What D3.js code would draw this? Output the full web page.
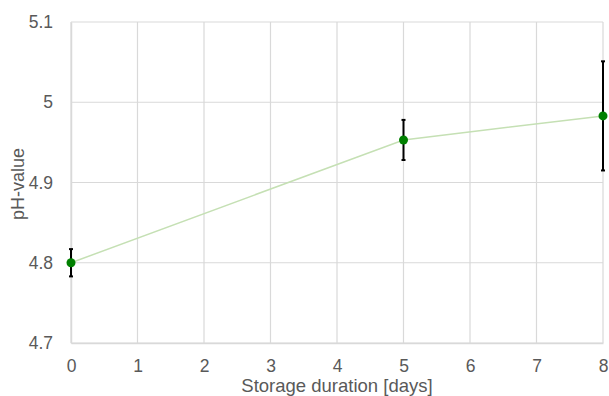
<!DOCTYPE html>
<html><head><meta charset="utf-8">
<script src="https://cdn.jsdelivr.net/npm/d3@7"></script>
<style>html,body{margin:0;padding:0;background:#fff;overflow:hidden}</style>
</head><body>
<svg id="c" width="609" height="396"></svg>
<script>
const days = [0, 5, 8];
const phValues = [4.800, 4.953, 4.983];
const phErrors = [0.017, 0.025, 0.068];
const xTicks = [0,1,2,3,4,5,6,7,8];
const yTicks = [4.7, 4.8, 4.9, 5.0, 5.1];
const yTickLabels = ["4.7","4.8","4.9","5","5.1"];

const svg = d3.select("#c");
const m = {left:71, right:603, top:22, bottom:343};
const x = d3.scaleLinear().domain([0,8]).range([m.left, m.right]);
const y = d3.scaleLinear().domain([4.7,5.1]).range([m.bottom, m.top]);
const font = "'Liberation Sans', Arial, sans-serif";
const grid = "#d9d9d9";
const txt = "#595959";

// gridlines
svg.append("g").selectAll("line").data(yTicks).join("line")
  .attr("x1", m.left).attr("x2", m.right)
  .attr("y1", d=>y(d)).attr("y2", d=>y(d))
  .attr("stroke", grid).attr("stroke-width", 1.2);
svg.append("g").selectAll("line").data(xTicks).join("line")
  .attr("y1", m.top).attr("y2", m.bottom)
  .attr("x1", d=>x(d)).attr("x2", d=>x(d))
  .attr("stroke", grid).attr("stroke-width", 1.2);

// axes (labels only)
const xAxis = d3.axisBottom(x).tickValues(xTicks).tickSize(0).tickPadding(16.5).tickFormat(d3.format("d"));
const gx = svg.append("g").attr("transform", `translate(0,${m.bottom})`).call(xAxis);
gx.select(".domain").attr("stroke", grid).attr("stroke-width", 1.5);
gx.selectAll("text").attr("font-family", font).attr("font-size", 17.5).attr("fill", txt);

const yAxis = d3.axisLeft(y).tickValues(yTicks).tickSize(0).tickPadding(18)
  .tickFormat((d,i)=>yTickLabels[i]);
const gy = svg.append("g").attr("transform", `translate(${m.left},0)`).call(yAxis);
gy.select(".domain").attr("stroke", grid).attr("stroke-width", 1.5);
gy.selectAll("text").attr("font-family", font).attr("font-size", 17.5).attr("fill", txt);

// axis titles
svg.append("text").attr("x", 337).attr("y", 391.5)
  .attr("text-anchor","middle").attr("font-family", font).attr("font-size", 18.5)
  .attr("fill", txt).text("Storage duration [days]");
svg.append("text").attr("transform", `translate(24,184) rotate(-90)`)
  .attr("text-anchor","middle").attr("font-family", font).attr("font-size", 18)
  .attr("fill", txt).text("pH-value");

const data = days.map((d,i)=>({d, v:phValues[i], e:phErrors[i]}));

// line
svg.append("path").datum(data)
  .attr("d", d3.line().x(p=>x(p.d)).y(p=>y(p.v)))
  .attr("fill","none").attr("stroke","#c5e0b4").attr("stroke-width",1.5);

// error bars
const eb = svg.append("g").attr("stroke","#000").attr("stroke-width",2);
eb.selectAll("line.v").data(data).join("line")
  .attr("x1", p=>x(p.d)).attr("x2", p=>x(p.d))
  .attr("y1", p=>y(p.v-p.e)).attr("y2", p=>y(p.v+p.e));
eb.selectAll("line.t").data(data).join("line")
  .attr("x1", p=>x(p.d)-2).attr("x2", p=>x(p.d)+2)
  .attr("y1", p=>y(p.v+p.e)).attr("y2", p=>y(p.v+p.e));
eb.selectAll("line.b").data(data).join("line")
  .attr("x1", p=>x(p.d)-2).attr("x2", p=>x(p.d)+2)
  .attr("y1", p=>y(p.v-p.e)).attr("y2", p=>y(p.v-p.e));

// points
svg.append("g").selectAll("circle").data(data).join("circle")
  .attr("cx", p=>x(p.d)).attr("cy", p=>y(p.v)).attr("r", 4.5)
  .attr("fill","#008000");
</script>
</body></html>
